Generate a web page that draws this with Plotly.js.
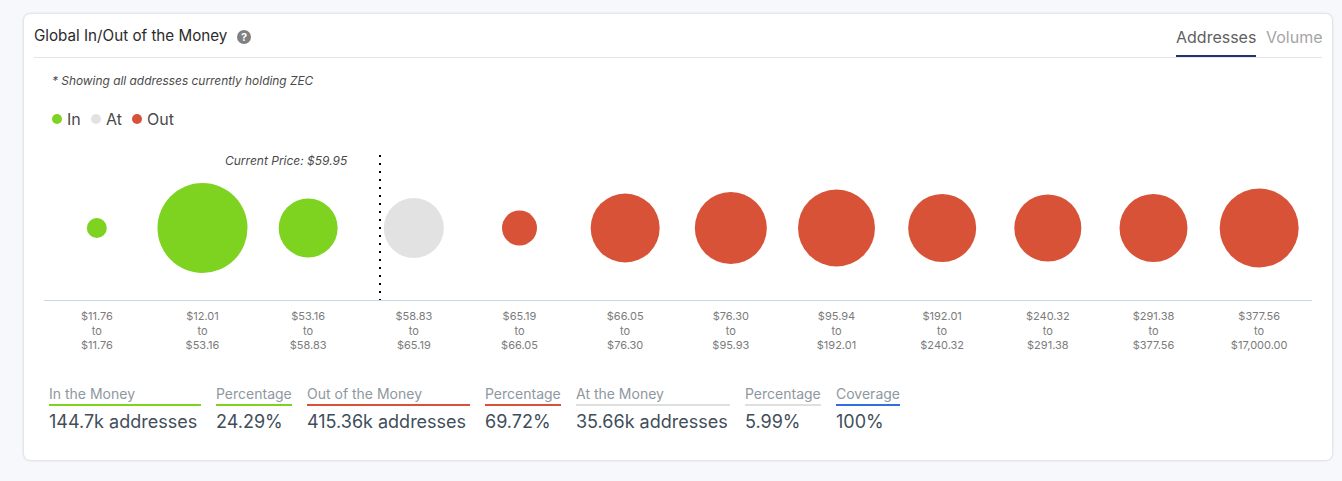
<!DOCTYPE html>
<html><head><meta charset="utf-8">
<script src="https://cdn.plot.ly/plotly-3.0.1.min.js"></script>
<style>
html,body{margin:0;padding:0;width:1342px;height:481px;overflow:hidden;background:#f7f8fc;font-family:Inter,"Noto Sans",sans-serif;}
#card{position:absolute;left:24px;top:14px;width:1308px;height:446px;background:#fff;border-radius:6px;box-shadow:0 0 3px rgba(0,0,0,.22);}
#chart{position:absolute;left:0;top:0;width:1342px;height:481px;}
.t{position:absolute;white-space:nowrap;}
.stat{position:absolute;top:385px;box-sizing:content-box;}
.stat .l{font-size:14px;color:#8f98a0;line-height:17px;height:19px;border-bottom:2px solid;white-space:nowrap;}
.stat .v{font-size:18px;color:#3f4e5a;line-height:22px;margin-top:5px;white-space:nowrap;}
.dot{position:absolute;width:10px;height:10px;border-radius:50%;top:114px;}
</style></head><body>
<div id="card"></div>
<div id="chart"></div>
<div class="t" style="left:34px;top:27px;font-size:15.2px;line-height:18px;color:#2b2b2b;">Global In/Out of the Money</div>
<div class="t" style="left:237px;top:30px;width:14px;height:14px;border-radius:50%;background:#808080;color:#fff;font-size:11px;font-weight:700;line-height:14px;text-align:center;">?</div>
<div class="t" style="left:1176px;top:28px;font-size:16px;line-height:19px;color:#5f5f5f;">Addresses</div>
<div class="t" style="left:1266px;top:28px;font-size:16px;line-height:19px;color:#a5a5a5;">Volume</div>
<div class="t" style="left:34px;top:57px;width:1288px;height:1px;background:#e3e5ea;"></div>
<div class="t" style="left:1176px;top:55px;width:80px;height:2px;background:#22356f;"></div>
<div class="t" style="left:52px;top:73px;font-size:11.9px;line-height:15px;font-style:italic;color:#4a4a4a;">* Showing all addresses currently holding ZEC</div>
<div class="dot" style="left:52px;background:#7ed321;"></div><div class="t" style="left:67px;top:110px;font-size:16px;line-height:19px;color:#4a4a4a;">In</div>
<div class="dot" style="left:91px;background:#e2e2e2;"></div><div class="t" style="left:106px;top:110px;font-size:16px;line-height:19px;color:#4a4a4a;">At</div>
<div class="dot" style="left:132px;background:#d85238;"></div><div class="t" style="left:147px;top:110px;font-size:16px;line-height:19px;color:#4a4a4a;">Out</div>
<div id="stats"></div>
<script>
// Price bands (low / high bound of each band)
var bandLow  = ["$11.76","$12.01","$53.16","$58.83","$65.19","$66.05","$76.30","$95.94","$192.01","$240.32","$291.38","$377.56"];
var bandHigh = ["$11.76","$53.16","$58.83","$65.19","$66.05","$76.30","$95.93","$192.01","$240.32","$291.38","$377.56","$17,000.00"];
// Estimated addresses per band, thousands
var inBands  = [0,1,2];
var inValues = [4.5,90.7,39.0];
var atBands  = [3];
var atValues = [40.3];
var outBands = [4,5,6,7,8,9,10,11];
var outValues= [13.7,53.3,58.1,66.4,51.8,50.3,51.8,69.9];
var currentPriceLabel = "Current Price: $59.95";
var currentPricePos = 2.68;
// Summary row
var statLabels = ["In the Money","Percentage","Out of the Money","Percentage","At the Money","Percentage","Coverage"];
var statValues = ["144.7k addresses","24.29%","415.36k addresses","69.72%","35.66k addresses","5.99%","100%"];

var cats = bandLow.map(function(l,i){return l+" to "+bandHigh[i];});
var tickText = bandLow.map(function(l,i){return l+"<br>to<br>"+bandHigh[i];});
function trace(name,idx,vals,color){
  return {type:"scatter",mode:"markers",name:name,cliponaxis:false,hoverinfo:"skip",
    x:idx.map(function(i){return cats[i];}),y:idx.map(function(){return 0;}),
    marker:{size:vals,sizemode:"area",sizeref:0.0224,color:color,line:{width:0},opacity:1}};
}
var data=[trace("In",inBands,inValues,"#7ed321"),trace("At",atBands,atValues,"#e2e2e2"),trace("Out",outBands,outValues,"#d85238")];
var layout={width:1342,height:481,margin:{l:44,r:30,t:156,b:181,pad:0},
  paper_bgcolor:"rgba(0,0,0,0)",plot_bgcolor:"rgba(0,0,0,0)",showlegend:false,
  font:{family:"Inter, sans-serif"},
  xaxis:{type:"category",categoryorder:"array",categoryarray:cats,range:[-0.5,11.5],tickmode:"array",tickvals:cats,ticktext:tickText,
    showgrid:false,zeroline:false,showline:true,linecolor:"#c9d6e6",linewidth:1,ticks:"outside",ticklen:6,tickcolor:"rgba(0,0,0,0)",tickangle:0,
    tickfont:{family:"Inter, sans-serif",size:11,color:"#7b7b7b"},fixedrange:true},
  yaxis:{range:[-1,1],visible:false,fixedrange:true},
  shapes:[{type:"line",xref:"x",yref:"paper",x0:currentPricePos,x1:currentPricePos,y0:1.007,y1:0,line:{color:"#000",width:2,dash:"2px,6px"}}],
  annotations:[{xref:"x",yref:"paper",x:currentPricePos,y:1,yanchor:"middle",xanchor:"right",xshift:-30,yshift:-4,showarrow:false,text:"<i>"+currentPriceLabel+"</i>",
    font:{family:"Inter, sans-serif",size:12,color:"#4a4a4a"}}]};
Plotly.newPlot("chart",data,layout,{displayModeBar:false,staticPlot:true});

var statLefts=[49,216,307,485,576,745,836], statWidths=[152,76,163,76,154,76,64],
    statColors=["#7ed321","#7ed321","#d85238","#d85238","#dfdfdf","#dfdfdf","#2f6fe0"];
var host=document.getElementById("stats");
statLabels.forEach(function(l,i){
  var d=document.createElement("div");d.className="stat";d.style.left=statLefts[i]+"px";d.style.width=statWidths[i]+"px";
  d.innerHTML='<div class="l" style="border-color:'+statColors[i]+'">'+l+'</div><div class="v">'+statValues[i]+'</div>';
  host.appendChild(d);
});
</script></body></html>
